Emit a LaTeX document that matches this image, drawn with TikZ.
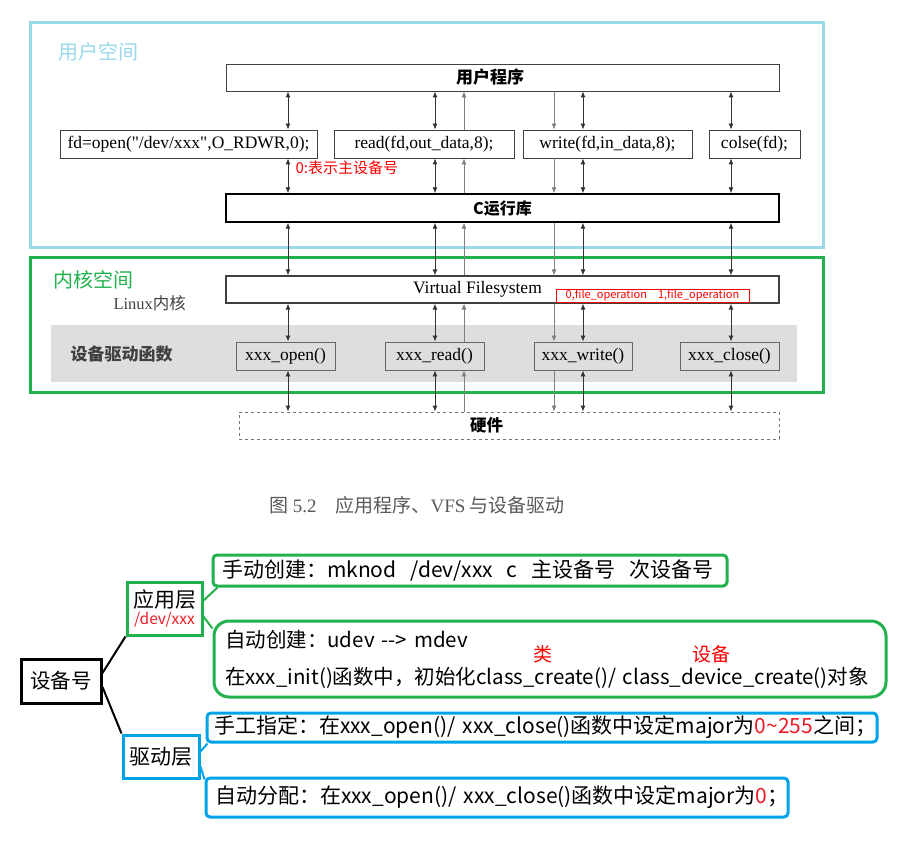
\documentclass[tikz,border=0pt]{standalone}
\usepackage{fontspec}
\setmainfont{Noto Sans CJK SC}
\newfontfamily\tms{Liberation Serif}
\usetikzlibrary{arrows.meta}

\definecolor{skyfrm}{RGB}{153,217,234}
\definecolor{kgreen}{RGB}{34,177,76}
\definecolor{dblue}{RGB}{0,162,232}
\definecolor{bandgray}{RGB}{222,222,222}
\definecolor{kred}{RGB}{237,28,36}

\tikzset{
  sbox/.style={draw=black!75, line width=0.9pt, inner sep=0pt, minimum height=27, font=\fontsize{17.5}{20}\selectfont\tms},
  dbox/.style={sbox, draw=black!60, fill=bandgray, minimum height=28},
  dbl/.style={draw=black!80, line width=0.9pt, {Latex[length=6pt,width=5pt]}-{Latex[length=6pt,width=5pt]}},
  upar/.style={draw=black!50, line width=0.8pt, {Latex[length=6pt,width=5pt]}-},
  dnar/.style={draw=black!50, line width=0.8pt, -{Latex[length=6pt,width=5pt]}},
  mapbox/.style={line width=3pt, inner sep=0pt, minimum height=#1},
  branch/.style={line width=2pt},
  txt/.style={font=\fontsize{21}{25}\selectfont, align=left, inner ysep=0pt}
}

\begin{document}
\begin{tikzpicture}[x=1pt, y=-1pt]
    \useasboundingbox (0,0) rectangle (905,850);
    \draw[skyfrm, line width=3pt] (30,23) rectangle (823,248);
    \node[anchor=west, skyfrm, font=\fontsize{20}{22}\selectfont] (uspace) at (55,52) {用户空间};
    \fill[bandgray] (51,325) rectangle (797,382);
    \draw[kgreen, line width=3pt] (30,258) rectangle (823,392);
    \node[anchor=west, kgreen, font=\fontsize{20}{22}\selectfont] (kspace) at (50,280) {内核空间};
    \node[anchor=west, black!75, font=\fontsize{16.5}{18}\selectfont] (linux) at (110,303) {{\tms Linux}内核};
    \node[anchor=west, black!75, font=\fontsize{17}{18}\selectfont\bfseries] (drvfun) at (67,354) {设备驱动函数};

    \node[sbox, minimum width=553, font=\fontsize{17}{18}\selectfont\bfseries] (prog) at (502.5,77.5) {\hspace*{-25pt}用户程序};
    \node[sbox, minimum width=257, minimum height=28] (callopen) at (188.5,144) {fd=open("/dev/xxx",O\_RDWR,0);};
    \node[sbox, minimum width=180, minimum height=28] (callread) at (424,144) {read(fd,out\_data,8);};
    \node[sbox, minimum width=169, minimum height=28] (callwrite) at (607.5,144) {write(fd,in\_data,8);};
    \node[sbox, minimum width=91, minimum height=28] (callclose) at (754.5,144) {colse(fd);};
    \node[sbox, draw=black, line width=1.4pt, minimum width=553, minimum height=28, font=\fontsize{16}{18}\selectfont\bfseries] (libc) at (502.5,208) {C运行库};
    \node[sbox, line width=1.2pt, minimum width=553] (vfs) at (502.5,289.5) {\hspace*{-50pt}Virtual Filesystem};
    \node[draw=red, line width=0.8pt, minimum width=193, minimum height=13, inner sep=0pt, text=red, font=\fontsize{11}{12}\selectfont] (fops) at (652.5,295.5) {0,file\_operation\quad 1,file\_operation};
    \node[dbox, minimum width=99] (drvopen) at (285.5,356) {xxx\_open()};
    \node[dbox, minimum width=99] (drvread) at (434.5,356) {xxx\_read()};
    \node[dbox, minimum width=98] (drvwrite) at (583,356) {xxx\_write()};
    \node[dbox, minimum width=99] (drvclose) at (729.5,356) {xxx\_close()};
    \node[sbox, draw=black!55, dashed, minimum width=540, font=\fontsize{16.5}{18}\selectfont\bfseries] (hw) at (509,425.5) {\hspace*{-45pt}硬件};
    \node[anchor=west, text=red, font=\fontsize{15}{16}\selectfont] (major) at (292,168) {0:表示主设备号};
    \node[anchor=west, black!65, font=\fontsize{19}{20}\selectfont] (caption) at (266,505) {图 {\tms 5.2}\quad 应用程序、{\tms VFS} 与设备驱动};

    \foreach \c/\x in {c1/288, c2/435, c3/464, c4/554, c5/583, c6/731}
        \coordinate (\c) at (\x,0);
    \foreach \a/\b in {prog/callopen, callopen/libc, libc/vfs, vfs/drvopen, drvopen/hw}
        \foreach \c/\s in {c1/dbl, c2/dbl, c3/upar, c4/dnar, c5/dbl, c6/dbl}
            \draw[\s] (\c |- \a.south) -- (\c |- \b.north);

    \node[mapbox=44, draw=black, minimum width=80, font=\fontsize{20.5}{22}\selectfont] (devno) at (61,681) {设备号};
    \node[mapbox=53, draw=kgreen, minimum width=75, align=center] (applayer) at (164.5,608.5)
        {{\fontsize{21}{21}\selectfont 应用层}\\[1pt]{\fontsize{15.5}{15.5}\selectfont\color{kred}/dev/xxx}};
    \node[mapbox=43, draw=dblue, minimum width=76, font=\fontsize{21}{22}\selectfont] (drvlayer) at (161,756.5) {驱动层};

    \node[txt, draw=kgreen, line width=3pt, rounded corners=4pt, inner xsep=9pt, text width=496, minimum height=31] (manual) at (470,570.5)
        {手动创建：mknod\ \ /dev/xxx\ \ c\ \ 主设备号\ \ 次设备号};
    \node[txt, draw=kgreen, line width=3pt, rounded corners=15pt, inner xsep=11pt, text width=650, minimum height=76, font=\fontsize{20.5}{25}\selectfont] (auto) at (550,659)
        {自动创建：udev -{}-{}> mdev\\[12pt]在xxx\_init()函数中，初始化class\_create()/ class\_device\_create()对象};
    \node[text=red, font=\fontsize{19}{20}\selectfont] (lei) at (543,654) {类};
    \node[text=red, font=\fontsize{19}{20}\selectfont] (shebei) at (711,654) {设备};
    \node[txt, draw=dblue, line width=3pt, rounded corners=4pt, inner xsep=7pt, text width=656, minimum height=29] (fixed) at (542,727.5)
        {手工指定：在xxx\_open()/ xxx\_close()函数中设定major为{\color{kred}0\textasciitilde255}之间；};
    \node[txt, draw=dblue, line width=3pt, rounded corners=4pt, inner xsep=9pt, text width=564, minimum height=39] (dyn) at (497,797.5)
        {自动分配：在xxx\_open()/ xxx\_close()函数中设定major为{\color{kred}0}；};

    \draw[branch] ([yshift=8]devno.east) -- (applayer.south west);
    \draw[branch] ([yshift=-6]devno.east) -- (drvlayer.north west);
    \draw[branch, kgreen] ([yshift=8]applayer.east) -- ([xshift=6]manual.south west);
    \draw[branch, kgreen] ([yshift=-8]applayer.east) -- ([yshift=-9]auto.north west);
    \draw[branch, dblue] ([yshift=5]drvlayer.east) -- ([xshift=2]fixed.south west);
    \draw[branch, dblue] ([yshift=-10]drvlayer.east) -- ([yshift=-3]dyn.north west);
\end{tikzpicture}
\end{document}
